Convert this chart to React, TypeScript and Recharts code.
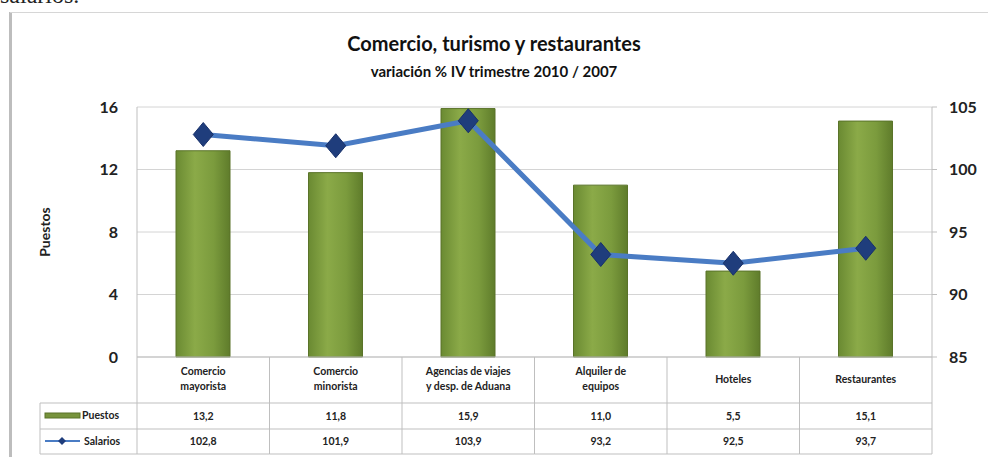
import React from 'react';
import { ComposedChart, Bar, Line, XAxis, YAxis, CartesianGrid } from 'recharts';

const categories = [
  'Comercio mayorista',
  'Comercio minorista',
  'Agencias de viajes y desp. de Aduana',
  'Alquiler de equipos',
  'Hoteles',
  'Restaurantes',
];
const categoryLines = [
  ['Comercio', 'mayorista'],
  ['Comercio', 'minorista'],
  ['Agencias de viajes', 'y desp. de Aduana'],
  ['Alquiler de', 'equipos'],
  ['Hoteles'],
  ['Restaurantes'],
];
const puestos = [13.2, 11.8, 15.9, 11.0, 5.5, 15.1];
const salarios = [102.8, 101.9, 103.9, 93.2, 92.5, 93.7];
const leftTicks = [0, 4, 8, 12, 16];
const rightTicks = [85, 90, 95, 100, 105];

const data = categories.map((c, i) => ({ name: c, puestos: puestos[i], salarios: salarios[i] }));

const W = 988;
const H = 457;
const M = { top: 107, right: 6, bottom: 3, left: 77 };
const LEFT_AXIS_W = 60;
const RIGHT_AXIS_W = 50;
const PLOT_LEFT = M.left + LEFT_AXIS_W;
const PLOT_RIGHT = W - M.right - RIGHT_AXIS_W;
const BAND = (PLOT_RIGHT - PLOT_LEFT) / categories.length;

const FONT = 'Lato, "Open Sans", sans-serif';
const GRID = '#D4D4D4';
const BORDER = '#BFBFBF';
const LINE_BLUE = '#4A7CC4';
const DIAMOND = '#1F3D7C';

const fmt = (v: number) => v.toFixed(1).replace('.', ',');

function TableTick(props: any) {
  const { x, y, payload } = props;
  const i = categories.indexOf(payload.value);
  const lines = categoryLines[i];
  const left = x - BAND / 2;
  const right = x + BAND / 2;
  const r1 = y + 46;
  const r2 = y + 72;
  const r3 = y + 97;
  const txt = { fontFamily: FONT, fontSize: 10.5, fontWeight: 700, fill: '#222' };
  return (
    <g>
      {i === 0 && (
        <g>
          <line x1={left} y1={y} x2={left} y2={r3} stroke={BORDER} />
          <line x1={40} y1={r1} x2={left} y2={r1} stroke={BORDER} />
          <line x1={40} y1={r2} x2={left} y2={r2} stroke={BORDER} />
          <line x1={40} y1={r3} x2={left} y2={r3} stroke={BORDER} />
          <line x1={40} y1={r1} x2={40} y2={r3} stroke={BORDER} />
          <rect x={45} y={r1 + 10} width={35} height={5} fill="#77933C" stroke="#5A7329" />
          <text x={82} y={r1 + 16} {...txt}>Puestos</text>
          <line x1={45} y1={r2 + 12} x2={80} y2={r2 + 12} stroke={LINE_BLUE} strokeWidth={2} />
          <polygon points={`62,${r2 + 8} 66,${r2 + 12} 62,${r2 + 16} 58,${r2 + 12}`} fill={DIAMOND} />
          <text x={84} y={r2 + 16} {...txt}>Salarios</text>
        </g>
      )}
      <line x1={right} y1={y} x2={right} y2={r3} stroke={BORDER} />
      <line x1={left} y1={r1} x2={right} y2={r1} stroke={BORDER} />
      <line x1={left} y1={r2} x2={right} y2={r2} stroke={BORDER} />
      <line x1={left} y1={r3} x2={right} y2={r3} stroke={BORDER} />
      {lines.length === 2 ? (
        <text textAnchor="middle" {...txt}>
          <tspan x={x} y={y + 18}>{lines[0]}</tspan>
          <tspan x={x} y={y + 33}>{lines[1]}</tspan>
        </text>
      ) : (
        <text x={x} y={y + 26} textAnchor="middle" {...txt}>{lines[0]}</text>
      )}
      <text x={x} y={r1 + 17} textAnchor="middle" {...txt}>{fmt(puestos[i])}</text>
      <text x={x} y={r2 + 16} textAnchor="middle" {...txt}>{fmt(salarios[i])}</text>
    </g>
  );
}

function DiamondDot(props: any) {
  const { cx, cy } = props;
  if (cx == null || cy == null) return null;
  return (
    <polygon
      points={`${cx},${cy - 12} ${cx + 10},${cy} ${cx},${cy + 12} ${cx - 10},${cy}`}
      fill={DIAMOND}
      stroke="#17306A"
      strokeWidth={1}
    />
  );
}

export default function App() {
  const tickStyle = { fontFamily: FONT, fontSize: 16, fontWeight: 700, fill: '#222' };
  return (
    <div style={{ position: 'relative', width: W, height: H, overflow: 'hidden', background: '#fff' }}>
      <style>{'body{margin:0}'}</style>
      <div
        style={{
          position: 'absolute', left: 0, top: -18, fontFamily: 'serif', fontSize: 24, color: '#222',
        }}
      >
        salarios.
      </div>
      <div style={{ position: 'absolute', left: 9, top: 12, width: 3, height: H, background: '#BDBDBD' }} />
      <div style={{ position: 'absolute', left: 10, top: 12, width: W, height: 1, background: '#D6D6D6' }} />
      <div
        style={{
          position: 'absolute', left: 0, width: W, top: 31, textAlign: 'center',
          fontFamily: FONT, fontWeight: 700, fontSize: 20, color: '#111',
        }}
      >
        Comercio, turismo y restaurantes
      </div>
      <div
        style={{
          position: 'absolute', left: 0, width: W, top: 62, textAlign: 'center',
          fontFamily: FONT, fontWeight: 700, fontSize: 15, color: '#111',
        }}
      >
        variación % IV trimestre 2010 / 2007
      </div>
      <div style={{ position: 'absolute', left: 0, top: 0 }}>
        <ComposedChart width={W} height={H} data={data} margin={M}>
          <defs>
            <linearGradient id="barGrad" x1="0" y1="0" x2="1" y2="0">
              <stop offset="0%" stopColor="#6A8A32" />
              <stop offset="35%" stopColor="#8BAA48" />
              <stop offset="70%" stopColor="#7B9B3D" />
              <stop offset="100%" stopColor="#5F7C2B" />
            </linearGradient>
          </defs>
          <CartesianGrid yAxisId="left" vertical={false} stroke={GRID} />
          <XAxis
            dataKey="name"
            height={97}
            interval={0}
            tickLine={false}
            tickSize={0}
            tickMargin={0}
            axisLine={{ stroke: BORDER }}
            tick={<TableTick />}
          />
          <YAxis
            yAxisId="left"
            width={LEFT_AXIS_W}
            domain={[0, 16]}
            ticks={leftTicks}
            tickLine={false}
            tickSize={0}
            tickMargin={19}
            axisLine={{ stroke: BORDER }}
            tick={tickStyle}
            label={{
              value: 'Puestos', angle: -90, position: 'insideLeft', offset: -32,
              style: { fontFamily: FONT, fontSize: 14, fontWeight: 700, fill: '#222', textAnchor: 'middle' },
            }}
          />
          <YAxis
            yAxisId="right"
            orientation="right"
            width={RIGHT_AXIS_W}
            domain={[85, 105]}
            ticks={rightTicks}
            tickLine={{ stroke: BORDER }}
            tickSize={5}
            tickMargin={12}
            axisLine={{ stroke: BORDER }}
            tick={{ ...tickStyle, textAnchor: 'start' }}
          />
          <Bar
            yAxisId="left"
            dataKey="puestos"
            barSize={54}
            fill="url(#barGrad)"
            stroke="#5A7329"
            isAnimationActive={false}
          />
          <Line
            yAxisId="right"
            dataKey="salarios"
            stroke={LINE_BLUE}
            strokeWidth={5}
            dot={<DiamondDot />}
            activeDot={false}
            isAnimationActive={false}
          />
        </ComposedChart>
      </div>
    </div>
  );
}
